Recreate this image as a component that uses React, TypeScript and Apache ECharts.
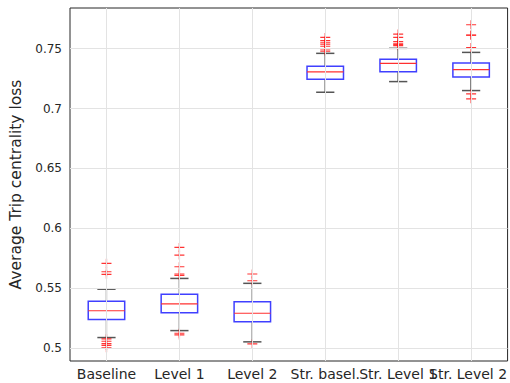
import React, { useEffect, useRef } from "react";
import * as echarts from "echarts";

const categories = ["Baseline", "Level 1", "Level 2", "Str. basel.", "Str. Level 1", "Str. Level 2"];
// [lowerWhisker, q1, median, q3, upperWhisker]
const boxStats = [
  [0.5086, 0.5236, 0.531, 0.539, 0.549],
  [0.5144, 0.5294, 0.5367, 0.5447, 0.558],
  [0.505, 0.5217, 0.5289, 0.5386, 0.5539],
  [0.7136, 0.7244, 0.7306, 0.7353, 0.7461],
  [0.7225, 0.7308, 0.7378, 0.7411, 0.7503],
  [0.715, 0.7264, 0.7325, 0.7381, 0.7469],
];
const outliers = [
  [0.5706, 0.5636, 0.5614, 0.5075, 0.5055, 0.5035, 0.502, 0.5],
  [0.5839, 0.5775, 0.5678, 0.5617, 0.5605, 0.5122, 0.5108],
  [0.5617, 0.5561, 0.5033],
  [0.7594, 0.7567, 0.755, 0.7537, 0.752, 0.7497, 0.748],
  [0.7622, 0.7594, 0.756, 0.7545, 0.7535, 0.7525],
  [0.77, 0.7614, 0.7612, 0.751, 0.7122, 0.7081],
];
const yTicks = [0.5, 0.55, 0.6, 0.65, 0.7, 0.75];
const yMin = 0.489;
const yMax = 0.784;

export default function App() {
  const ref = useRef<HTMLDivElement>(null);
  useEffect(() => {
    const chart = echarts.init(ref.current!, null, { renderer: "svg" });
    const boxData = boxStats.map((s, i) => [i, ...s]);
    const outData: number[][] = [];
    outliers.forEach((arr, i) => arr.forEach((v) => outData.push([i, v])));
    const font = "DejaVu Sans";
    const gridColor = "#e3e3e3";
    const xData = categories.map((c, i) =>
      i === categories.length - 1
        ? { value: c, textStyle: { align: "right", padding: [0, -36, 0, 0] } }
        : c
    );
    chart.setOption({
      animation: false,
      backgroundColor: "#fff",
      grid: { left: 70, top: 8, right: 1, bottom: 22, show: true, borderColor: "#262626", borderWidth: 1, backgroundColor: "#fff" },
      xAxis: [
        {
          type: "category",
          data: xData,
          boundaryGap: true,
          axisLine: { show: false },
          axisTick: { show: true, inside: true, alignWithLabel: true, length: 4, lineStyle: { color: "#262626" } },
          axisLabel: { interval: 0, hideOverlap: false, color: "#262626", fontFamily: font, fontSize: 14, margin: 6 },
          splitLine: { show: false },
        },
        {
          type: "category",
          position: "top",
          data: categories,
          boundaryGap: true,
          axisLine: { show: false },
          axisTick: { show: true, inside: true, alignWithLabel: true, length: 4, lineStyle: { color: "#262626" } },
          axisLabel: { show: false },
          splitLine: { show: false },
        },
      ],
      yAxis: [
        {
          type: "value",
          min: yMin,
          max: yMax,
          name: "Average Trip centrality loss",
          nameLocation: "middle",
          nameGap: 44,
          nameTextStyle: { color: "#262626", fontFamily: font, fontSize: 15.5 },
          axisLine: { show: false },
          axisTick: { show: true, inside: true, length: 4, customValues: yTicks, lineStyle: { color: "#262626" } },
          axisLabel: { color: "#262626", fontFamily: font, fontSize: 12, customValues: yTicks, margin: 8 },
          splitLine: { show: false },
        },
        {
          type: "value",
          min: yMin,
          max: yMax,
          position: "right",
          axisLine: { show: false },
          axisTick: { show: true, inside: true, length: 4, customValues: yTicks, lineStyle: { color: "#262626" } },
          axisLabel: { show: false, customValues: yTicks },
          splitLine: { show: false },
        },
      ],
      series: [
        {
          type: "line",
          silent: true,
          data: [],
          markLine: {
            silent: true,
            symbol: "none",
            label: { show: false },
            lineStyle: { color: gridColor, type: "solid", width: 1 },
            data: [
              ...yTicks.map((t) => ({ yAxis: t })),
              ...categories.map((c) => ({ xAxis: c })),
            ],
          },
        },
        {
          type: "custom",
          data: boxData,
          encode: { x: 0, y: [1, 2, 3, 4, 5] },
          renderItem: (params: any, api: any) => {
            const x = api.value(0);
            const lo = api.coord([x, api.value(1)]);
            const q1 = api.coord([x, api.value(2)]);
            const med = api.coord([x, api.value(3)]);
            const q3 = api.coord([x, api.value(4)]);
            const hi = api.coord([x, api.value(5)]);
            const band = api.size([1, 0])[0];
            const bw = band * 0.5;
            const cw = band * 0.25;
            const cx = lo[0];
            return {
              type: "group",
              children: [
                { type: "line", shape: { x1: cx, y1: hi[1], x2: cx, y2: q3[1] }, style: { stroke: "#000", lineWidth: 1.2 } },
                { type: "line", shape: { x1: cx, y1: q1[1], x2: cx, y2: lo[1] }, style: { stroke: "#000", lineWidth: 1.2 } },
                { type: "line", shape: { x1: cx - cw / 2, y1: hi[1], x2: cx + cw / 2, y2: hi[1] }, style: { stroke: "#555", lineWidth: 1.5 } },
                { type: "line", shape: { x1: cx - cw / 2, y1: lo[1], x2: cx + cw / 2, y2: lo[1] }, style: { stroke: "#555", lineWidth: 1.5 } },
                { type: "rect", shape: { x: cx - bw / 2, y: q3[1], width: bw, height: q1[1] - q3[1] }, style: { fill: "#fff", stroke: "#4040ff", lineWidth: 1.5 } },
                { type: "line", shape: { x1: cx - bw / 2, y1: med[1], x2: cx + bw / 2, y2: med[1] }, style: { stroke: "#ff3030", lineWidth: 1.2 } },
              ],
            };
          },
          z: 3,
        },
        {
          type: "scatter",
          data: outData,
          symbol: "path://M0,5 L10,5 M5,0 L5,10",
          symbolSize: [10, 9],
          itemStyle: { color: "none", borderColor: "#ff0000", borderWidth: 1.2 },
          z: 4,
        },
      ],
    });
    return () => chart.dispose();
  }, []);
  return <div ref={ref} style={{ position: "fixed", left: 0, top: 0, width: 510, height: 383 }} />;
}
